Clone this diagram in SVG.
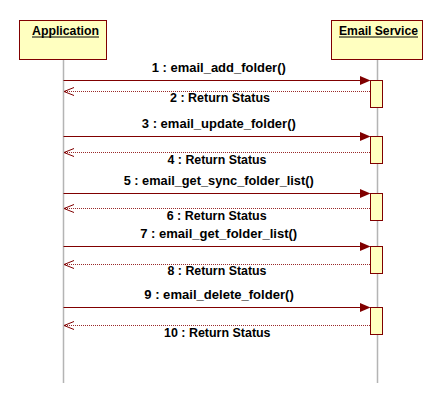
<svg xmlns="http://www.w3.org/2000/svg" width="444" height="404" viewBox="0 0 444 404">
<style>
.box{fill:#ffffc0;stroke:#800000;stroke-width:1}
.life{stroke:#b4b4b4;stroke-width:1.5;fill:none}
.act{fill:#ffffc0;stroke:#800000;stroke-width:1}
.call{stroke:#800000;stroke-width:1;fill:none}
.ret{stroke:#9a2a2a;stroke-width:1;stroke-dasharray:1 1;fill:none}
.head{fill:#800000;stroke:none}
.open{stroke:#800000;stroke-width:1;fill:none}
text{font-family:"Liberation Sans",Arial,sans-serif;font-weight:bold;font-size:12px;fill:#000;text-anchor:middle}
.ul{stroke:#000;stroke-width:1}
</style>
<rect width="444" height="404" fill="#fff"/>
<g id="lifelines">
<line class="life" x1="63.5" y1="59.5" x2="63.5" y2="383"/>
<line class="life" x1="377.5" y1="59.5" x2="377.5" y2="383"/>
</g>
<g id="node-application">
<rect class="box" x="19.5" y="20.5" width="87" height="39"/>
<text x="65.5" y="34.5" textLength="67" lengthAdjust="spacingAndGlyphs">Application</text>
<line class="ul" x1="32" y1="37" x2="99" y2="37"/>
</g>
<g id="node-email-service">
<rect class="box" x="331.5" y="20.5" width="91" height="39"/>
<text x="378.5" y="34.5" textLength="79" lengthAdjust="spacingAndGlyphs">Email Service</text>
<line class="ul" x1="339" y1="37" x2="418" y2="37"/>
</g>
<g id="activations">
<rect class="act" x="370.5" y="80.5" width="12" height="27"/>
<rect class="act" x="370.5" y="136.5" width="12" height="27"/>
<rect class="act" x="370.5" y="193.5" width="12" height="27"/>
<rect class="act" x="370.5" y="246.5" width="12" height="27"/>
<rect class="act" x="370.5" y="307.5" width="12" height="27"/>
</g>
<g id="connectors">
<line class="call" x1="63.5" y1="80.5" x2="361" y2="80.5"/>
<path class="head" d="M360,76 L370.5,80.5 L360,85 Z"/>
<line class="ret" x1="370" y1="91.5" x2="64" y2="91.5"/>
<path class="open" d="M74,87.5 L64,91.5 L74,95.5"/>

<line class="call" x1="63.5" y1="136.5" x2="361" y2="136.5"/>
<path class="head" d="M360,132 L370.5,136.5 L360,141 Z"/>
<line class="ret" x1="370" y1="152.5" x2="64" y2="152.5"/>
<path class="open" d="M74,148.5 L64,152.5 L74,156.5"/>

<line class="call" x1="63.5" y1="193.5" x2="361" y2="193.5"/>
<path class="head" d="M360,189 L370.5,193.5 L360,198 Z"/>
<line class="ret" x1="370" y1="208.5" x2="64" y2="208.5"/>
<path class="open" d="M74,204.5 L64,208.5 L74,212.5"/>

<line class="call" x1="63.5" y1="246.5" x2="361" y2="246.5"/>
<path class="head" d="M360,242 L370.5,246.5 L360,251 Z"/>
<line class="ret" x1="370" y1="264.5" x2="64" y2="264.5"/>
<path class="open" d="M74,260.5 L64,264.5 L74,268.5"/>

<line class="call" x1="63.5" y1="307.5" x2="361" y2="307.5"/>
<path class="head" d="M360,303 L370.5,307.5 L360,312 Z"/>
<line class="ret" x1="370" y1="325.5" x2="64" y2="325.5"/>
<path class="open" d="M74,321.5 L64,325.5 L74,329.5"/>
</g>
<g id="labels">
<text x="218.8" y="72.3" textLength="134" lengthAdjust="spacingAndGlyphs">1 : email_add_folder()</text>
<text x="220" y="102.3" textLength="100" lengthAdjust="spacingAndGlyphs">2 : Return Status</text>
<text x="218.8" y="128.3" textLength="154" lengthAdjust="spacingAndGlyphs">3 : email_update_folder()</text>
<text x="217" y="164" textLength="99" lengthAdjust="spacingAndGlyphs">4 : Return Status</text>
<text x="218.7" y="185" textLength="190" lengthAdjust="spacingAndGlyphs">5 : email_get_sync_folder_list()</text>
<text x="216.7" y="220" textLength="100" lengthAdjust="spacingAndGlyphs">6 : Return Status</text>
<text x="218.7" y="238.3" textLength="157" lengthAdjust="spacingAndGlyphs">7 : email_get_folder_list()</text>
<text x="217" y="275" textLength="99" lengthAdjust="spacingAndGlyphs">8 : Return Status</text>
<text x="219" y="299.3" textLength="149.5" lengthAdjust="spacingAndGlyphs">9 : email_delete_folder()</text>
<text x="217.3" y="336.7" textLength="106.5" lengthAdjust="spacingAndGlyphs">10 : Return Status</text>
</g>
</svg>
